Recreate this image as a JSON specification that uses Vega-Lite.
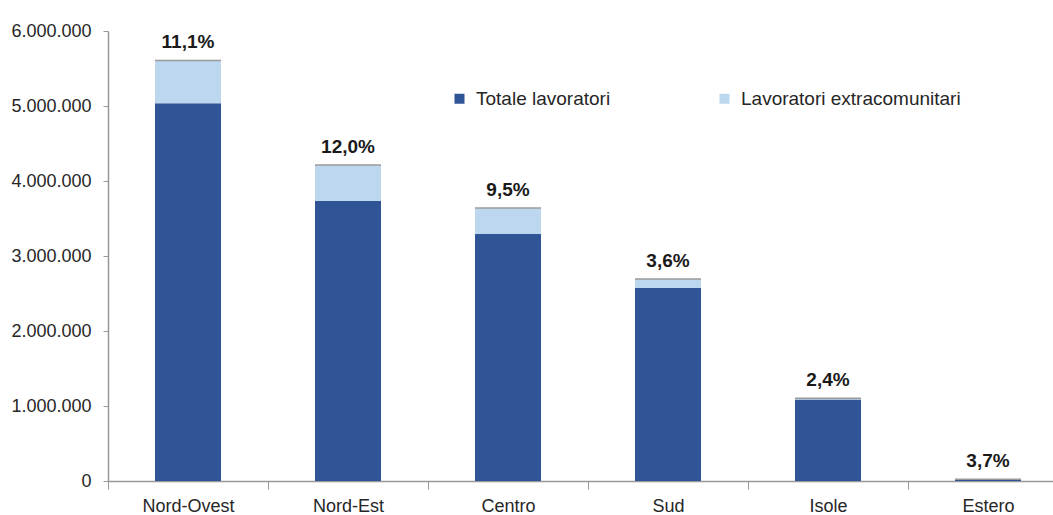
{
  "$schema": "https://vega.github.io/schema/vega-lite/v6.json",
  "autosize": {"type": "none"},
  "width": 945,
  "height": 450,
  "padding": {"left": 108, "top": 31, "right": 0, "bottom": 34},
  "background": "white",
  "config": {
    "locale": {"number": {"decimal": ",", "thousands": ".", "grouping": [3], "currency": ["", " €"]}},
    "view": {"stroke": null},
    "font": "Liberation Sans"
  },
  "data": {
    "values": [
      {"regione": "Nord-Ovest", "serie": "Totale lavoratori", "valore": 5036000, "pct": null},
      {"regione": "Nord-Ovest", "serie": "Lavoratori extracomunitari", "valore": 571000, "pct": "11,1%"},
      {"regione": "Nord-Est", "serie": "Totale lavoratori", "valore": 3733000, "pct": null},
      {"regione": "Nord-Est", "serie": "Lavoratori extracomunitari", "valore": 480000, "pct": "12,0%"},
      {"regione": "Centro", "serie": "Totale lavoratori", "valore": 3293000, "pct": null},
      {"regione": "Centro", "serie": "Lavoratori extracomunitari", "valore": 347000, "pct": "9,5%"},
      {"regione": "Sud", "serie": "Totale lavoratori", "valore": 2573000, "pct": null},
      {"regione": "Sud", "serie": "Lavoratori extracomunitari", "valore": 120000, "pct": "3,6%"},
      {"regione": "Isole", "serie": "Totale lavoratori", "valore": 1087000, "pct": null},
      {"regione": "Isole", "serie": "Lavoratori extracomunitari", "valore": 18000, "pct": "2,4%"},
      {"regione": "Estero", "serie": "Totale lavoratori", "valore": 22000, "pct": null},
      {"regione": "Estero", "serie": "Lavoratori extracomunitari", "valore": 1000, "pct": "3,7%"}
    ]
  },
  "encoding": {
    "x": {
      "field": "regione",
      "type": "nominal",
      "sort": ["Nord-Ovest", "Nord-Est", "Centro", "Sud", "Isole", "Estero"],
      "scale": {"range": [0, 960], "paddingInner": 0, "paddingOuter": 0},
      "axis": {
        "title": null,
        "labelAngle": 0,
        "labelFontSize": 18,
        "labelColor": "#262626",
        "labelPadding": 8,
        "tickBand": "extent",
        "tickSize": 8,
        "tickColor": "#999999",
        "domainColor": "#999999",
        "domainWidth": 1.5,
        "grid": false
      }
    }
  },
  "layer": [
    {
      "mark": {"type": "bar", "width": {"band": 0.4125}},
      "encoding": {
        "y": {
          "field": "valore",
          "type": "quantitative",
          "stack": "zero",
          "scale": {"domain": [0, 6000000], "nice": false},
          "axis": {
            "title": null,
            "values": [0, 1000000, 2000000, 3000000, 4000000, 5000000, 6000000],
            "format": ",d",
            "labelFontSize": 18,
            "labelColor": "#262626",
            "labelPadding": 12,
            "tickSize": 5,
            "tickColor": "#999999",
            "domainColor": "#999999",
            "domainWidth": 1.5,
            "grid": false
          }
        },
        "color": {
          "field": "serie",
          "type": "nominal",
          "scale": {
            "domain": ["Totale lavoratori", "Lavoratori extracomunitari"],
            "range": ["#2F5597", "#BDD7EE"]
          },
          "legend": {
            "title": null,
            "orient": "none",
            "direction": "horizontal",
            "legendX": 342,
            "legendY": 58,
            "symbolType": "square",
            "symbolSize": 100,
            "symbolStrokeWidth": 0,
            "labelFontSize": 19,
            "labelColor": "#262626",
            "labelOffset": 7,
            "columnPadding": 104,
            "labelLimit": 400
          }
        },
        "order": {"field": "serie", "sort": "descending"}
      }
    },
    {
      "transform": [
        {"joinaggregate": [{"op": "sum", "field": "valore", "as": "totale"}], "groupby": ["regione"]},
        {"filter": "datum.serie === 'Lavoratori extracomunitari'"}
      ],
      "mark": {"type": "tick", "size": 66, "thickness": 1.5, "color": "#9a9a9a", "opacity": 1},
      "encoding": {
        "y": {"field": "totale", "type": "quantitative"}
      }
    },
    {
      "transform": [
        {"joinaggregate": [{"op": "sum", "field": "valore", "as": "totale"}], "groupby": ["regione"]},
        {"filter": "datum.serie === 'Lavoratori extracomunitari'"}
      ],
      "mark": {"type": "text", "dy": -12, "baseline": "alphabetic", "fontSize": 19, "fontWeight": "bold", "color": "#1a1a1a"},
      "encoding": {
        "y": {"field": "totale", "type": "quantitative"},
        "text": {"field": "pct", "type": "nominal"}
      }
    }
  ]
}
